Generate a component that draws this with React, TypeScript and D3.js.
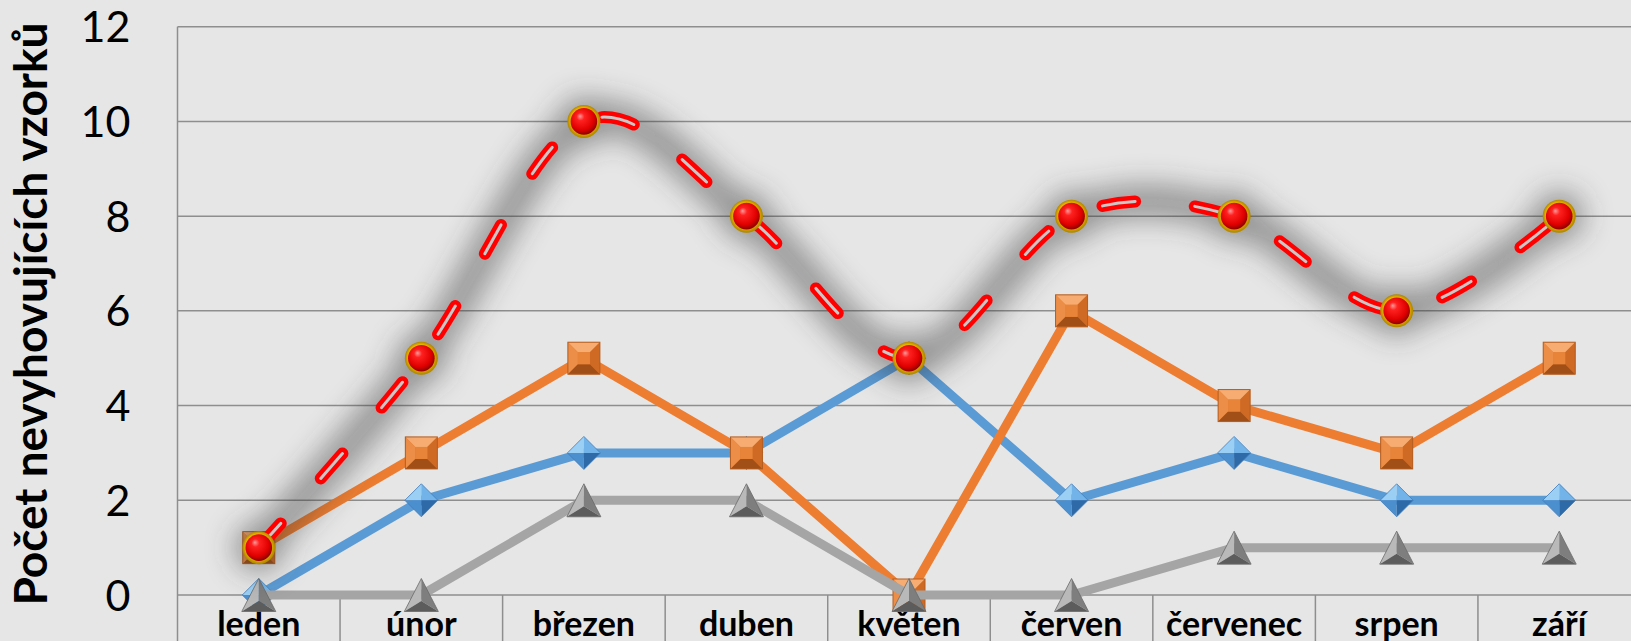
import React, { useEffect } from "react";
import * as d3 from "d3";

const categories = ["leden", "únor", "březen", "duben", "květen", "červen", "červenec", "srpen", "září"];
const blueValues = [0, 2, 3, 3, 5, 2, 3, 2, 2];
const orangeValues = [1, 3, 5, 3, 0, 6, 4, 3, 5];
const grayValues = [0, 0, 2, 2, 0, 0, 1, 1, 1];
const redValues = [1, 5, 10, 8, 5, 8, 8, 6, 8];
const yTicks = [0, 2, 4, 6, 8, 10, 12];
const yTitle = "Počet nevyhovujících vzorků";

const W = 1631;
const H = 641;
const LEFT = 177.5;
const RIGHT = 1640.5;
const TOP = 26.7;
const BOTTOM = 595;
const FONT = "Lato, 'Open Sans', sans-serif";

export default function App() {
  useEffect(() => {
    document.body.style.margin = "0";
    document.body.style.background = "#E6E6E6";
  }, []);

  const x = d3.scaleBand<string>().domain(categories).range([LEFT, RIGHT]).paddingInner(0).paddingOuter(0);
  const bw = x.bandwidth();
  const cx = (c: string) => (x(c) as number) + bw / 2;
  const y = d3.scaleLinear().domain([0, 12]).range([BOTTOM, TOP]);

  const straight = d3.line<[number, number]>().curve(d3.curveLinear);
  const smooth = d3.line<[number, number]>().curve(d3.curveCardinal.tension(0));

  const pts = (vals: number[]) => vals.map((v, i) => [cx(categories[i]), y(v)] as [number, number]);
  const bluePts = pts(blueValues);
  const orangePts = pts(orangeValues);
  const grayPts = pts(grayValues);
  const redPts = pts(redValues);

  const diamond = (p: [number, number], i: number) => {
    const [px, py] = p;
    const h = 16.5;
    return (
      <g key={"d" + i} transform={`translate(${px},${py})`}>
        <polygon points={`0,${-h} 0,0 ${-h},0`} fill="#9BCFF4" />
        <polygon points={`0,${-h} ${h},0 0,0`} fill="#72B4EA" />
        <polygon points={`${-h},0 0,0 0,${h}`} fill="#4C8FCE" />
        <polygon points={`0,0 ${h},0 0,${h}`} fill="#2F6AA8" />
        <polygon points={`0,${-h} ${h},0 0,${h} ${-h},0`} fill="none" stroke="#3E7CBB" strokeWidth={0.8} />
      </g>
    );
  };

  const square = (p: [number, number], i: number) => {
    const [px, py] = p;
    const h = 16;
    const b = 10;
    return (
      <g key={"s" + i} transform={`translate(${px},${py})`}>
        <rect x={-h} y={-h} width={2 * h} height={2 * h} fill="#E07A30" />
        <polygon points={`${-h},${-h} ${h},${-h} ${h - b},${-h + b} ${-h + b},${-h + b}`} fill="#F7AC72" />
        <polygon points={`${-h},${-h} ${-h + b},${-h + b} ${-h + b},${h - b} ${-h},${h}`} fill="#EC8E48" />
        <polygon points={`${h},${-h} ${h},${h} ${h - b},${h - b} ${h - b},${-h + b}`} fill="#CF6A24" />
        <polygon points={`${-h},${h} ${-h + b},${h - b} ${h - b},${h - b} ${h},${h}`} fill="#A24F17" />
        <rect x={-h + b} y={-h + b} width={2 * (h - b)} height={2 * (h - b)} fill="#E8843A" />
        <rect x={-h} y={-h} width={2 * h} height={2 * h} fill="none" stroke="#B35E22" strokeWidth={1} />
      </g>
    );
  };

  const triangle = (p: [number, number], i: number) => {
    const [px, py] = p;
    const hw = 17;
    const hh = 16.5;
    const c = 6;
    return (
      <g key={"t" + i} transform={`translate(${px},${py})`}>
        <polygon points={`0,${-hh} ${-hw},${hh} 0,${c}`} fill="#B9B9B9" />
        <polygon points={`0,${-hh} 0,${c} ${hw},${hh}`} fill="#7E7E7E" />
        <polygon points={`${-hw},${hh} 0,${c} ${hw},${hh}`} fill="#5C5C5C" />
        <polygon points={`0,${-hh} ${hw},${hh} ${-hw},${hh}`} fill="none" stroke="#6A6A6A" strokeWidth={0.8} />
      </g>
    );
  };

  const ball = (p: [number, number], i: number) => {
    const [px, py] = p;
    return (
      <g key={"b" + i} transform={`translate(${px},${py})`}>
        <circle r={16.5} fill="url(#goldRing)" />
        <circle r={13.3} fill="url(#redBall)" />
      </g>
    );
  };

  const dash = "33 60";

  return (
    <svg width={W} height={H} style={{ display: "block", background: "#E6E6E6" }} fontFamily={FONT}>
      <defs>
        <radialGradient id="redBall" cx="0.45" cy="0.4" r="0.6" fx="0.35" fy="0.3">
          <stop offset="0" stopColor="#FF9C9C" />
          <stop offset="0.25" stopColor="#FF2020" />
          <stop offset="0.75" stopColor="#E00000" />
          <stop offset="1" stopColor="#8E0000" />
        </radialGradient>
        <radialGradient id="goldRing" cx="0.5" cy="0.5" r="0.5" fx="0.4" fy="0.35">
          <stop offset="0.7" stopColor="#F2C200" />
          <stop offset="1" stopColor="#B08400" />
        </radialGradient>
        <filter id="glow" x="-20%" y="-30%" width="140%" height="160%">
          <feGaussianBlur stdDeviation="15" />
        </filter>
      </defs>
      <rect x={0} y={0} width={W} height={H} fill="#E6E6E6" />

      {/* gridlines */}
      {yTicks.map((t) => (
        <line key={"g" + t} x1={LEFT} x2={RIGHT} y1={y(t)} y2={y(t)} stroke="#8E8E8E" strokeWidth={1.5} />
      ))}
      <line x1={LEFT} x2={LEFT} y1={TOP} y2={H} stroke="#8E8E8E" strokeWidth={1.5} />
      {categories.map((c) => (
        <line key={"sep" + c} x1={(x(c) as number) + bw} x2={(x(c) as number) + bw} y1={BOTTOM} y2={H} stroke="#8E8E8E" strokeWidth={1.5} />
      ))}

      {/* y tick labels */}
      {yTicks.map((t) => (
        <text key={"yt" + t} x={130.5} y={y(t) + 15.5} textAnchor="end" fontSize={43} fill="#000">
          {t}
        </text>
      ))}

      {/* y title */}
      <text transform="translate(47,314) rotate(-90)" textAnchor="middle" fontSize={46} fontWeight="bold" fill="#000">
        {yTitle}
      </text>

      {/* x labels */}
      {categories.map((c) => (
        <text key={"xl" + c} x={cx(c)} y={636} textAnchor="middle" fontSize={34} fontWeight="bold" fill="#000">
          {c}
        </text>
      ))}

      {/* blue series */}
      <path d={straight(bluePts) || ""} fill="none" stroke="#5B9BD5" strokeWidth={9} strokeLinejoin="round" />
      {bluePts.map(diamond)}

      {/* orange series */}
      <path d={straight(orangePts) || ""} fill="none" stroke="#ED7D31" strokeWidth={9} strokeLinejoin="round" />
      {orangePts.map(square)}

      {/* gray series */}
      <path d={straight(grayPts) || ""} fill="none" stroke="#A5A5A5" strokeWidth={9} strokeLinejoin="round" />
      {grayPts.map(triangle)}

      {/* red series: shadow */}
      <g filter="url(#glow)" opacity={0.5}>
        <path d={smooth(redPts) || ""} fill="none" stroke="#333333" strokeWidth={30} strokeLinecap="round" />
        {redPts.map((p, i) => (
          <circle key={"sh" + i} cx={p[0]} cy={p[1]} r={24} fill="#333333" />
        ))}
      </g>
      <path d={smooth(redPts) || ""} fill="none" stroke="#FF0000" strokeWidth={12} strokeDasharray={dash} strokeLinecap="round" />
      <path d={smooth(redPts) || ""} fill="none" stroke="#C8C8C8" strokeWidth={3} strokeDasharray={dash} strokeLinecap="round" />
      {redPts.map(ball)}
    </svg>
  );
}
